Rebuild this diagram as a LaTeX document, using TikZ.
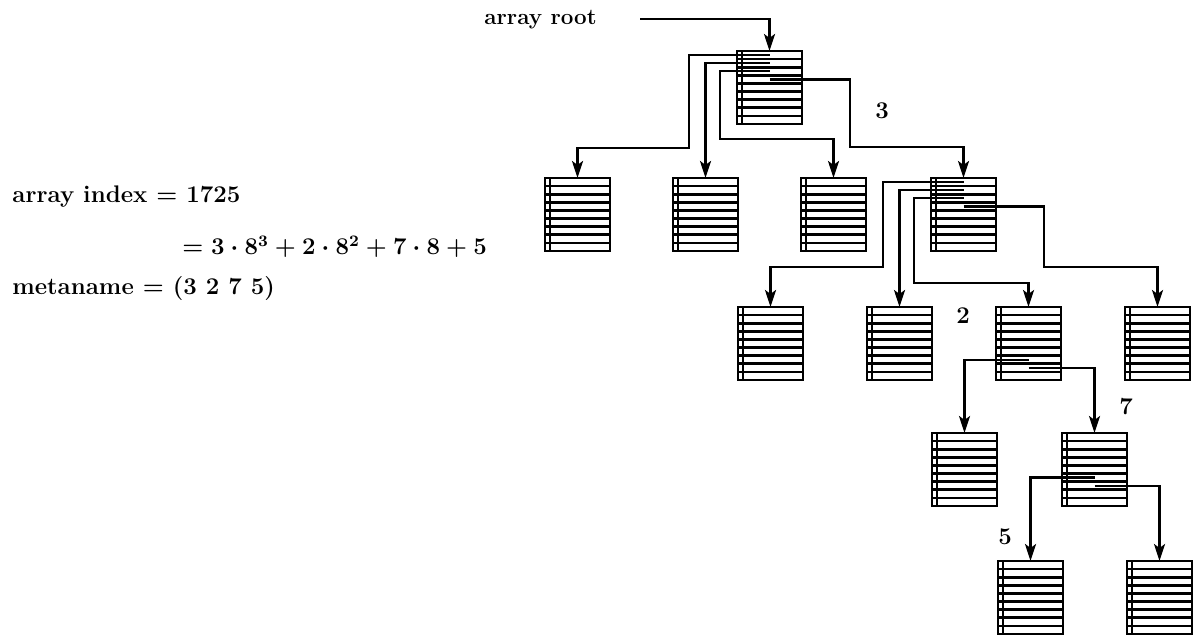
\documentclass[tikz,border=0pt]{standalone}
\usetikzlibrary{arrows.meta,calc}
\tikzset{
  membox/.style={draw, line width=1.4pt, minimum width=32.5pt, minimum height=36.5pt, inner sep=0pt, outer sep=0pt},
  rowline/.style={line width=1.3pt},
  ptr/.style={line width=1.2pt, -{Stealth[length=8.5pt,width=5.5pt,inset=2pt]}},
  lbl/.style={font=\fontsize{12}{14}\selectfont\bfseries\boldmath, inner sep=0pt},
}
\newcommand\cellbox[3]{%
  \node[membox] (#1) at ({#2+32.5},{#3+36.5}) {};
  \foreach \i in {1,...,8} \draw[rowline] ($(#1.north west)+(0,{\i*73/9})$) -- ++(65,0);
  \draw[rowline] ($(#1.north west)+(5,0)$) -- ++(0,73);
  \foreach \i in {1,...,9} \coordinate (#1-r\i) at ($(#1.north)+(0,{(\i-0.5)*73/9})$);
}
\begin{document}
\begin{tikzpicture}[x=0.5pt,y=-0.5pt]
\useasboundingbox (0,0) rectangle (1193,636);
% text
\node[lbl, font=\fontsize{11.2}{13}\selectfont\bfseries, anchor=base west] (arrroot) at (484,25) {array root};
\node[lbl, anchor=base west] (idx) at (12,203) {array index $=$ 1725};
\node[lbl, anchor=base west] (expand) at (182,255) {$=3\cdot8^3+2\cdot8^2+7\cdot8+5$};
\node[lbl, anchor=base west] (meta) at (12,294) {metaname $=$ (3\ 2\ 7\ 5)};
% boxes
\cellbox{root}{737}{51}
\cellbox{A}{545}{178}
\cellbox{B}{673}{178}
\cellbox{C}{801}{178}
\cellbox{D}{931}{178}
\cellbox{E}{738}{307}
\cellbox{F}{867}{307}
\cellbox{G}{996}{307}
\cellbox{H}{1125}{307}
\cellbox{I}{932}{433}
\cellbox{J}{1062}{433}
\cellbox{K}{998}{561}
\cellbox{L}{1127}{561}
% connectors
\coordinate (rootstart) at (640,19);
\draw[ptr] (rootstart) -| (root.north);
\draw[ptr] (root-r1) -- ++(-80.5,0) |- ($(A.north)+(0,-30)$) -- (A.north);
\draw[ptr] (root-r2) -| (B.north);
\draw[ptr] (root-r3) -- ++(-49.5,0) |- ($(C.north)+(0,-39)$) -- (C.north);
\draw[ptr] (root-r4) -- ++(80.5,0) |- ($(D.north)+(0,-31)$) -- (D.north);
\draw[ptr] (D-r1) -- ++(-80.5,0) |- ($(E.north)+(0,-40)$) -- (E.north);
\draw[ptr] (D-r2) -| (F.north);
\draw[ptr] (D-r3) -- ++(-49.5,0) |- ($(G.north)+(0,-24)$) -- (G.north);
\draw[ptr] (D-r4) -- ++(80.5,0) |- ($(H.north)+(0,-40)$) -- (H.north);
\draw[ptr] (G-r7) -| (I.north);
\draw[ptr] (G-r8) -| (J.north);
\draw[ptr] (J-r6) -| (K.north);
\draw[ptr] (J-r7) -| (L.north);
% index labels
\node[lbl] (l3) at (882,111) {3};
\node[lbl] (l2) at (963,316) {2};
\node[lbl] (l7) at (1126,407) {7};
\node[lbl] (l5) at (1005,537) {5};
\end{tikzpicture}
\end{document}
